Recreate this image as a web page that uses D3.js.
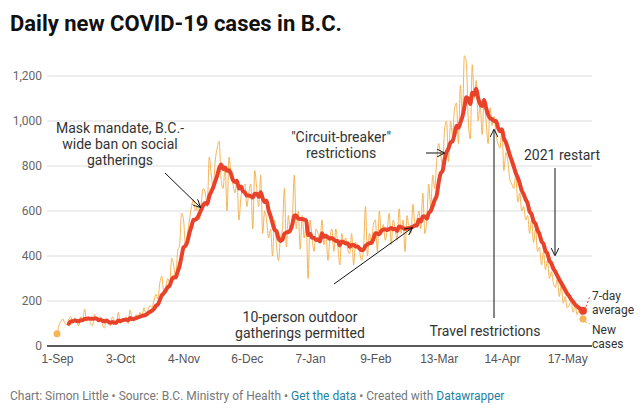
<!DOCTYPE html>
<html><head><meta charset="utf-8">
<script src="https://cdn.jsdelivr.net/npm/d3@7"></script>
<style>
body{margin:0;background:#fff;font-family:Roboto,"Noto Sans",sans-serif;}
.ann{font-size:14px;fill:#333;}
.tick text{font-size:12px;fill:#555;}
</style></head><body>
<svg id="chart"></svg>
<script>
const startDate = new Date(2020, 8, 1);
const dailyCases = [
 55,90,110,120,100,95,120, 130,100,125,110,90,130,120, 165,110,130,100,90,140,120,
 110,130,95,80,120,100,90, 130,110,95,150,100,120,110, 130,100,160,120,110,140,130,
 150,130,170,140,160,180,170, 200,230,210,280,310,240,260, 300,280,390,360,300,420,450,
 590,560,440,500,560,620,650, 600,620,560,640,700,680,620, 840,760,700,820,880,910,740,
 700,800,600,840,760,720,680, 740,560,660,700,720,620,680, 720,520,780,700,620,760,500,
 600,560,480,520,400,560,450, 380,480,520,700,440,580,500, 560,760,520,600,430,580,480,
 540,300,560,480,420,520,500, 470,560,450,500,380,480,520, 420,520,450,360,500,460,480,
 430,410,500,360,460,450,420, 380,430,620,400,500,460,540, 560,420,600,500,540,470,520,
 590,450,560,520,470,610,500, 560,420,580,520,500,630,540, 560,600,520,680,500,560,720,
 620,760,700,820,900,850,800, 960,1000,820,1000,940,1050,1080, 900,1160,1000,1290,1260,1000,920,
 1250,1100,1180,1000,1080,940,1100, 1000,900,1060,980,1020,940,900, 880,960,780,860,820,740,720,
 700,760,640,680,600,620,560, 580,500,560,460,520,420,440, 360,420,340,380,300,330,280,
 260,300,220,270,190,220,170, 180,200,150,180,140,160,150, 120
];
const yTicks = [0, 200, 400, 600, 800, 1000, 1200];
const xTickDates = [[2020,8,1],[2020,9,3],[2020,10,4],[2020,11,6],[2021,0,7],[2021,1,9],[2021,2,13],[2021,3,14],[2021,4,17]];
const xTickFormat = d3.timeFormat("%-d-%b");

const W = 644, H = 419;
const margin = {top: 76, left: 47, right: 52, bottom: 73};
const svg = d3.select("#chart").attr("width", W).attr("height", H);

const days = dailyCases.map((v, i) => ({date: d3.timeDay.offset(startDate, i), value: v}));
const avg = days.slice(6).map((d, j) => ({date: d.date, value: d3.mean(dailyCases.slice(j, j + 7))}));

const x = d3.scaleTime()
  .domain([startDate, d3.timeDay.offset(startDate, 266)])
  .range([57, 583]);
const y = d3.scaleLinear().domain([0, 1200]).range([346, 76]);

svg.append("text").attr("x", 10).attr("y", 31)
  .style("font-size", "22px").style("font-weight", "bold").attr("fill", "#111")
  .text("Daily new COVID-19 cases in B.C.");

// grid + y labels
const grid = svg.append("g");
grid.selectAll("line").data(yTicks.filter(t => t > 0)).join("line")
  .attr("x1", margin.left).attr("x2", 592)
  .attr("y1", d => y(d)).attr("y2", d => y(d))
  .attr("stroke", "#ddd");
svg.append("g").selectAll("text").data(yTicks).join("text")
  .attr("x", 42).attr("y", d => y(d) + 4).attr("text-anchor", "end")
  .style("font-size", "12px").attr("fill", "#666")
  .text(d3.format(","));

// x axis
const xAxis = d3.axisBottom(x)
  .tickValues(xTickDates.map(d => new Date(d[0], d[1], d[2])))
  .tickFormat(xTickFormat).tickSize(0).tickPadding(8);
const xg = svg.append("g").attr("transform", "translate(0,346)").call(xAxis);
xg.select(".domain").remove();
svg.append("line").attr("x1", margin.left).attr("x2", 592).attr("y1", 346).attr("y2", 346)
  .attr("stroke", "#222").attr("stroke-width", 1.3);

// lines
const line = d3.line().x(d => x(d.date)).y(d => y(d.value)).curve(d3.curveMonotoneX);
svg.append("path").datum(days).attr("d", line)
  .attr("fill", "none").attr("stroke", "#f6b455").attr("stroke-width", 1);
svg.append("path").datum(avg).attr("d", line)
  .attr("fill", "none").attr("stroke", "#e8432a").attr("stroke-width", 4)
  .attr("stroke-linejoin", "round").attr("stroke-linecap", "round");

const lastD = days[days.length - 1], lastA = avg[avg.length - 1];
svg.append("circle").attr("cx", x(days[0].date)).attr("cy", y(days[0].value)).attr("r", 3.5).attr("fill", "#f6b455");
svg.append("circle").attr("cx", x(lastD.date)).attr("cy", y(lastD.value)).attr("r", 3.5).attr("fill", "#f6b455");
svg.append("circle").attr("cx", x(lastA.date)).attr("cy", y(lastA.value)).attr("r", 4).attr("fill", "#e8432a");

// end labels
svg.append("line").attr("x1", x(lastA.date) + 3).attr("y1", y(lastA.value) - 4).attr("x2", 590).attr("y2", 296)
  .attr("stroke", "#e8432a").attr("stroke-dasharray", "2,2");
svg.append("line").attr("x1", x(lastD.date) + 2).attr("y1", y(lastD.value) + 3).attr("x2", 590).attr("y2", 324)
  .attr("stroke", "#f6b455").attr("stroke-dasharray", "2,2");
const endLabel = (lines, y0) => {
  const t = svg.append("text").attr("x", 592).attr("y", y0).style("font-size", "12px").attr("fill", "#333");
  lines.forEach((l, i) => t.append("tspan").attr("x", 592).attr("dy", i ? 14 : 0).text(l));
};
endLabel(["7-day", "average"], 300);
endLabel(["New", "cases"], 334);

// annotations
const defs = svg.append("defs");
defs.append("marker").attr("id", "arr").attr("viewBox", "0 0 10 10").attr("refX", 9).attr("refY", 5)
  .attr("markerWidth", 8).attr("markerHeight", 8).attr("orient", "auto")
  .append("path").attr("d", "M0,0 L10,5 L0,10").attr("fill", "none").attr("stroke", "#111").attr("stroke-width", 1.2);
const note = (lines, cx, y0) => {
  const t = svg.append("text").attr("class", "ann").attr("text-anchor", "middle").attr("y", y0);
  lines.forEach((l, i) => t.append("tspan").attr("x", cx).attr("dy", i ? 16 : 0).text(l));
};
const arrow = (x1, y1, x2, y2) => svg.append("line")
  .attr("x1", x1).attr("y1", y1).attr("x2", x2).attr("y2", y2)
  .attr("stroke", "#111").attr("stroke-width", 1).attr("marker-end", "url(#arr)");

note(["Mask mandate, B.C.-", "wide ban on social", "gatherings"], 120, 133);
arrow(165, 173, 200, 207);
note(["\"Circuit-breaker\"", "restrictions"], 341, 142);
arrow(426, 153, 444, 153);
note(["2021 restart"], 562, 160);
arrow(555, 168, 555, 255);
note(["Travel restrictions"], 485, 336);
arrow(494, 318, 494, 130);
note(["10-person outdoor", "gatherings permitted"], 300, 322);
arrow(334, 284, 412, 228);

// footer
const f = svg.append("text").attr("x", 10).attr("y", 400).style("font-size", "12px").attr("fill", "#777");
f.append("tspan").text("Chart: Simon Little • Source: B.C. Ministry of Health • ");
f.append("tspan").attr("fill", "#1d81a2").text("Get the data");
f.append("tspan").text(" • Created with ");
f.append("tspan").attr("fill", "#1d81a2").text("Datawrapper");
</script>
</body></html>
